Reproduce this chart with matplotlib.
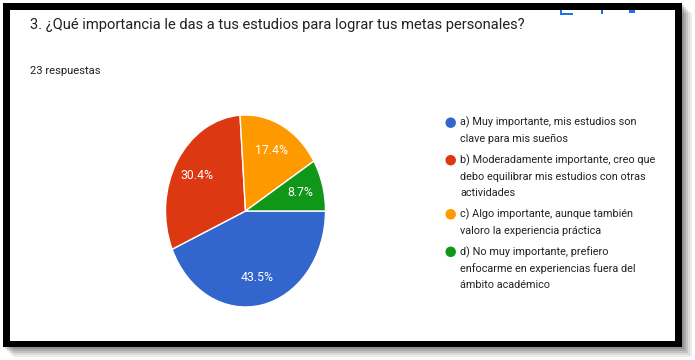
import matplotlib.pyplot as plt
from matplotlib.patches import Rectangle, Ellipse

# data
labels = [
    "a) Muy importante, mis estudios son\nclave para mis sueños",
    "b) Moderadamente importante, creo que\ndebo equilibrar mis estudios con otras\nactividades",
    "c) Algo importante, aunque también\nvaloro la experiencia práctica",
    "d) No muy importante, prefiero\nenfocarme en experiencias fuera del\námbito académico",
]
counts = [10, 7, 4, 2]
colors = ["#3366CC", "#DC3912", "#FF9900", "#109618"]
title = "3. ¿Qué importancia le das a tus estudios para lograr tus metas personales?"
subtitle = "23 respuestas"

fam = ["Roboto", "DejaVu Sans"]
W, H = 695, 360

fig = plt.figure(figsize=(W / 100, H / 100), dpi=100)
fig.patch.set_facecolor("white")

# background axes in pixel units
bg = fig.add_axes([0, 0, 1, 1])
bg.set_xlim(0, W)
bg.set_ylim(H, 0)
bg.axis("off")

# shadow
for i, a in enumerate([0.07, 0.08, 0.10, 0.12, 0.14]):
    off = 10 - i * 2
    bg.add_patch(Rectangle((3 + off, 3 + off), 679, 344, color="black", alpha=a, lw=0, zorder=0))
# frame
bg.add_patch(Rectangle((3, 3), 679, 344, color="black", lw=0, zorder=1))
bg.add_patch(Rectangle((10, 10), 665, 331, color="white", lw=0, zorder=2))

# cut off icons at the top
bg.add_patch(Rectangle((560, 10), 2, 5, color="#1a73e8", lw=0, zorder=3))
bg.add_patch(Rectangle((560, 13), 13, 2, color="#1a73e8", lw=0, zorder=3))
bg.add_patch(Rectangle((601, 10), 2, 4, color="#1a73e8", lw=0, zorder=3))
bg.add_patch(Rectangle((629, 10), 6, 3, color="#1a73e8", lw=0, zorder=3))

bg.text(30, 28.5, title, family=fam, fontsize=10.6, color="#202124", va="baseline", zorder=4)
bg.text(29.5, 74, subtitle, family=fam, fontsize=8.1, color="#202124", va="baseline", zorder=4)

# legend
y = 122.7
for lab, col in zip(labels, colors):
    bg.add_patch(Ellipse((450.7, y), 10.5, 10.5, color=col, lw=0, zorder=4))
    lines = lab.split("\n")
    for j, ln in enumerate(lines):
        bg.text(460.5, y + j * 16.6, ln, family=fam, fontsize=7.8, color="#222222",
                va="center", zorder=4)
    y += len(lines) * 16.6 + 4.3

# pie
ax = fig.add_axes([165.5 / W, (H - 307) / H, 160 / W, 192 / H])
wedges, texts, autotexts = ax.pie(
    counts, colors=colors, startangle=0, counterclock=False,
    autopct="%1.1f%%", pctdistance=0.71,
    wedgeprops=dict(edgecolor="white", linewidth=1),
    textprops=dict(color="white", fontsize=8.8, family=fam),
)
ax.set_aspect("auto")
ax.set_xlim(-1, 1)
ax.set_ylim(-1, 1)

fig.savefig("out.png", dpi=100)
